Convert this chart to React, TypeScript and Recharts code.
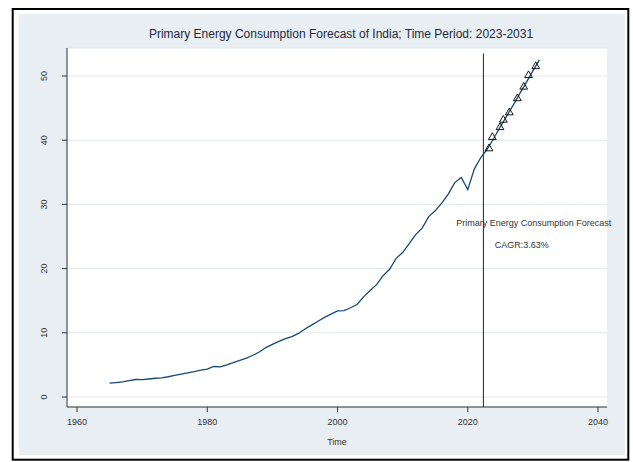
import { ComposedChart, Line, Scatter, XAxis, YAxis, CartesianGrid, ReferenceLine, ReferenceDot } from 'recharts';

const FONT = '"Liberation Sans", Arial, Helvetica, sans-serif';

// Historical primary energy consumption
const histYears = [
  1965, 1966, 1967, 1968, 1969, 1970, 1971, 1972, 1973, 1974,
  1975, 1976, 1977, 1978, 1979, 1980, 1981, 1982, 1983, 1984,
  1985, 1986, 1987, 1988, 1989, 1990, 1991, 1992, 1993, 1994,
  1995, 1996, 1997, 1998, 1999, 2000, 2001, 2002, 2003, 2004,
  2005, 2006, 2007, 2008, 2009, 2010, 2011, 2012, 2013, 2014,
  2015, 2016, 2017, 2018, 2019, 2020, 2021, 2022,
];
const histValues = [
  2.15, 2.25, 2.35, 2.55, 2.72, 2.7, 2.8, 2.92, 2.98, 3.15,
  3.35, 3.55, 3.75, 3.95, 4.2, 4.35, 4.75, 4.68, 5.0, 5.35,
  5.7, 6.05, 6.5, 7.0, 7.7, 8.2, 8.65, 9.1, 9.4, 9.9,
  10.6, 11.2, 11.8, 12.4, 12.9, 13.4, 13.45, 13.9, 14.4, 15.6,
  16.6, 17.5, 18.9, 19.9, 21.6, 22.5, 23.9, 25.3, 26.3, 28.1,
  29.0, 30.2, 31.6, 33.4, 34.2, 32.3, 35.5, 37.3,
];

// Forecast trend line
const fcYears = [2023, 2024, 2025, 2026, 2027, 2028, 2029, 2030, 2031];
const fcLine = [38.6, 40.3, 42.1, 43.8, 45.5, 47.3, 49.0, 50.8, 52.5];

// Forecast markers (triangles)
const fcPointTime = [2023.26, 2023.77, 2024.95, 2025.46, 2026.38, 2027.61, 2028.59, 2029.33, 2030.44];
const fcPointValue = [38.7, 40.45, 42.0, 43.15, 44.3, 46.5, 48.3, 50.1, 51.5];

const xTicks = [1960, 1980, 2000, 2020, 2040];
const yTicks = [0, 10, 20, 30, 40, 50];

const title = 'Primary Energy Consumption Forecast of India; Time Period: 2023-2031';
const noteLabel = 'Primary Energy Consumption Forecast';
const cagrLabel = 'CAGR:3.63%';
const forecastStart = 2022.4;

const lineData = [
  ...histYears.map((x, i) => ({ x, y: histValues[i] })),
  ...fcYears.map((x, i) => ({ x, y: fcLine[i] })),
];
const markerData = fcPointTime.map((x, i) => ({ x, y: fcPointValue[i] }));

function Triangle(props: any) {
  const { cx, cy } = props;
  if (cx == null || cy == null) return null;
  const s = 7.8;
  const h = (s * Math.sqrt(3)) / 2;
  const d = `M${cx},${cy - (2 * h) / 3} L${cx + s / 2},${cy + h / 3} L${cx - s / 2},${cy + h / 3} Z`;
  return <path d={d} fill="none" stroke="#000" strokeWidth={0.9} />;
}

function YTick(props: any) {
  const { x, y, payload } = props;
  const tx = x - 12.5;
  return (
    <text x={tx} y={y} transform={`rotate(-90, ${tx}, ${y})`} textAnchor="middle"
      fontSize={9} fill="#333" fontFamily={FONT}>
      {payload.value}
    </text>
  );
}

export default function App() {
  return (
    <div style={{ position: 'absolute', left: 0, top: 0, width: 633, height: 462, background: '#fff', fontFamily: FONT }}>
      <svg width={633} height={462} style={{ position: 'absolute', left: 0, top: 0 }}>
        <rect x={12.7} y={9} width={615.6} height={450.7} fill="#fff" stroke="#000" strokeWidth={2} />
        <rect x={19} y={14} width={606} height={441} fill="#e8eef2" />
        <text x={341} y={38} textAnchor="middle" fontSize={12} fill="#1c2a40" fontFamily={FONT}>{title}</text>
      </svg>
      <div style={{ position: 'absolute', left: 0, top: 0 }}>
        <ComposedChart width={633} height={462} margin={{ top: 48, right: 26, bottom: 15, left: 17 }}>
          <CartesianGrid vertical={false} stroke="#e1e9ee" fill="#fff" fillOpacity={1} />
          <XAxis dataKey="x" type="number" domain={[1958.46, 2041.38]} ticks={xTicks} allowDataOverflow
            height={40} tickSize={5} tickMargin={7} stroke="#333"
            tick={{ fontSize: 9, fill: '#333', fontFamily: FONT }}
            label={{ value: 'Time', position: 'insideBottom', offset: 2.5, fontSize: 9, fill: '#333', fontFamily: FONT }} />
          <YAxis dataKey="y" type="number" domain={[-1.56, 54.36]} ticks={yTicks} allowDataOverflow
            width={50} tickSize={5} tickMargin={2} stroke="#333" tick={<YTick />} />
          <ReferenceLine segment={[{ x: forecastStart, y: -1.56 }, { x: forecastStart, y: 53.5 }]}
            stroke="#222" strokeWidth={1} ifOverflow="visible" />
          <Line data={lineData} dataKey="y" type="linear" stroke="#1a476f" strokeWidth={1.3}
            dot={false} isAnimationActive={false} />
          <Scatter data={markerData} dataKey="y" shape={<Triangle />} isAnimationActive={false} />
          <ReferenceDot x={2030.14} y={27.1} r={1} fill="none" stroke="none" ifOverflow="visible"
            label={{ value: noteLabel, position: 'center', fontSize: 9, fill: '#333', fontFamily: FONT }} />
          <ReferenceDot x={2028.28} y={23.63} r={1} fill="none" stroke="none" ifOverflow="visible"
            label={{ value: cagrLabel, position: 'center', fontSize: 9, fill: '#333', fontFamily: FONT }} />
        </ComposedChart>
      </div>
    </div>
  );
}
